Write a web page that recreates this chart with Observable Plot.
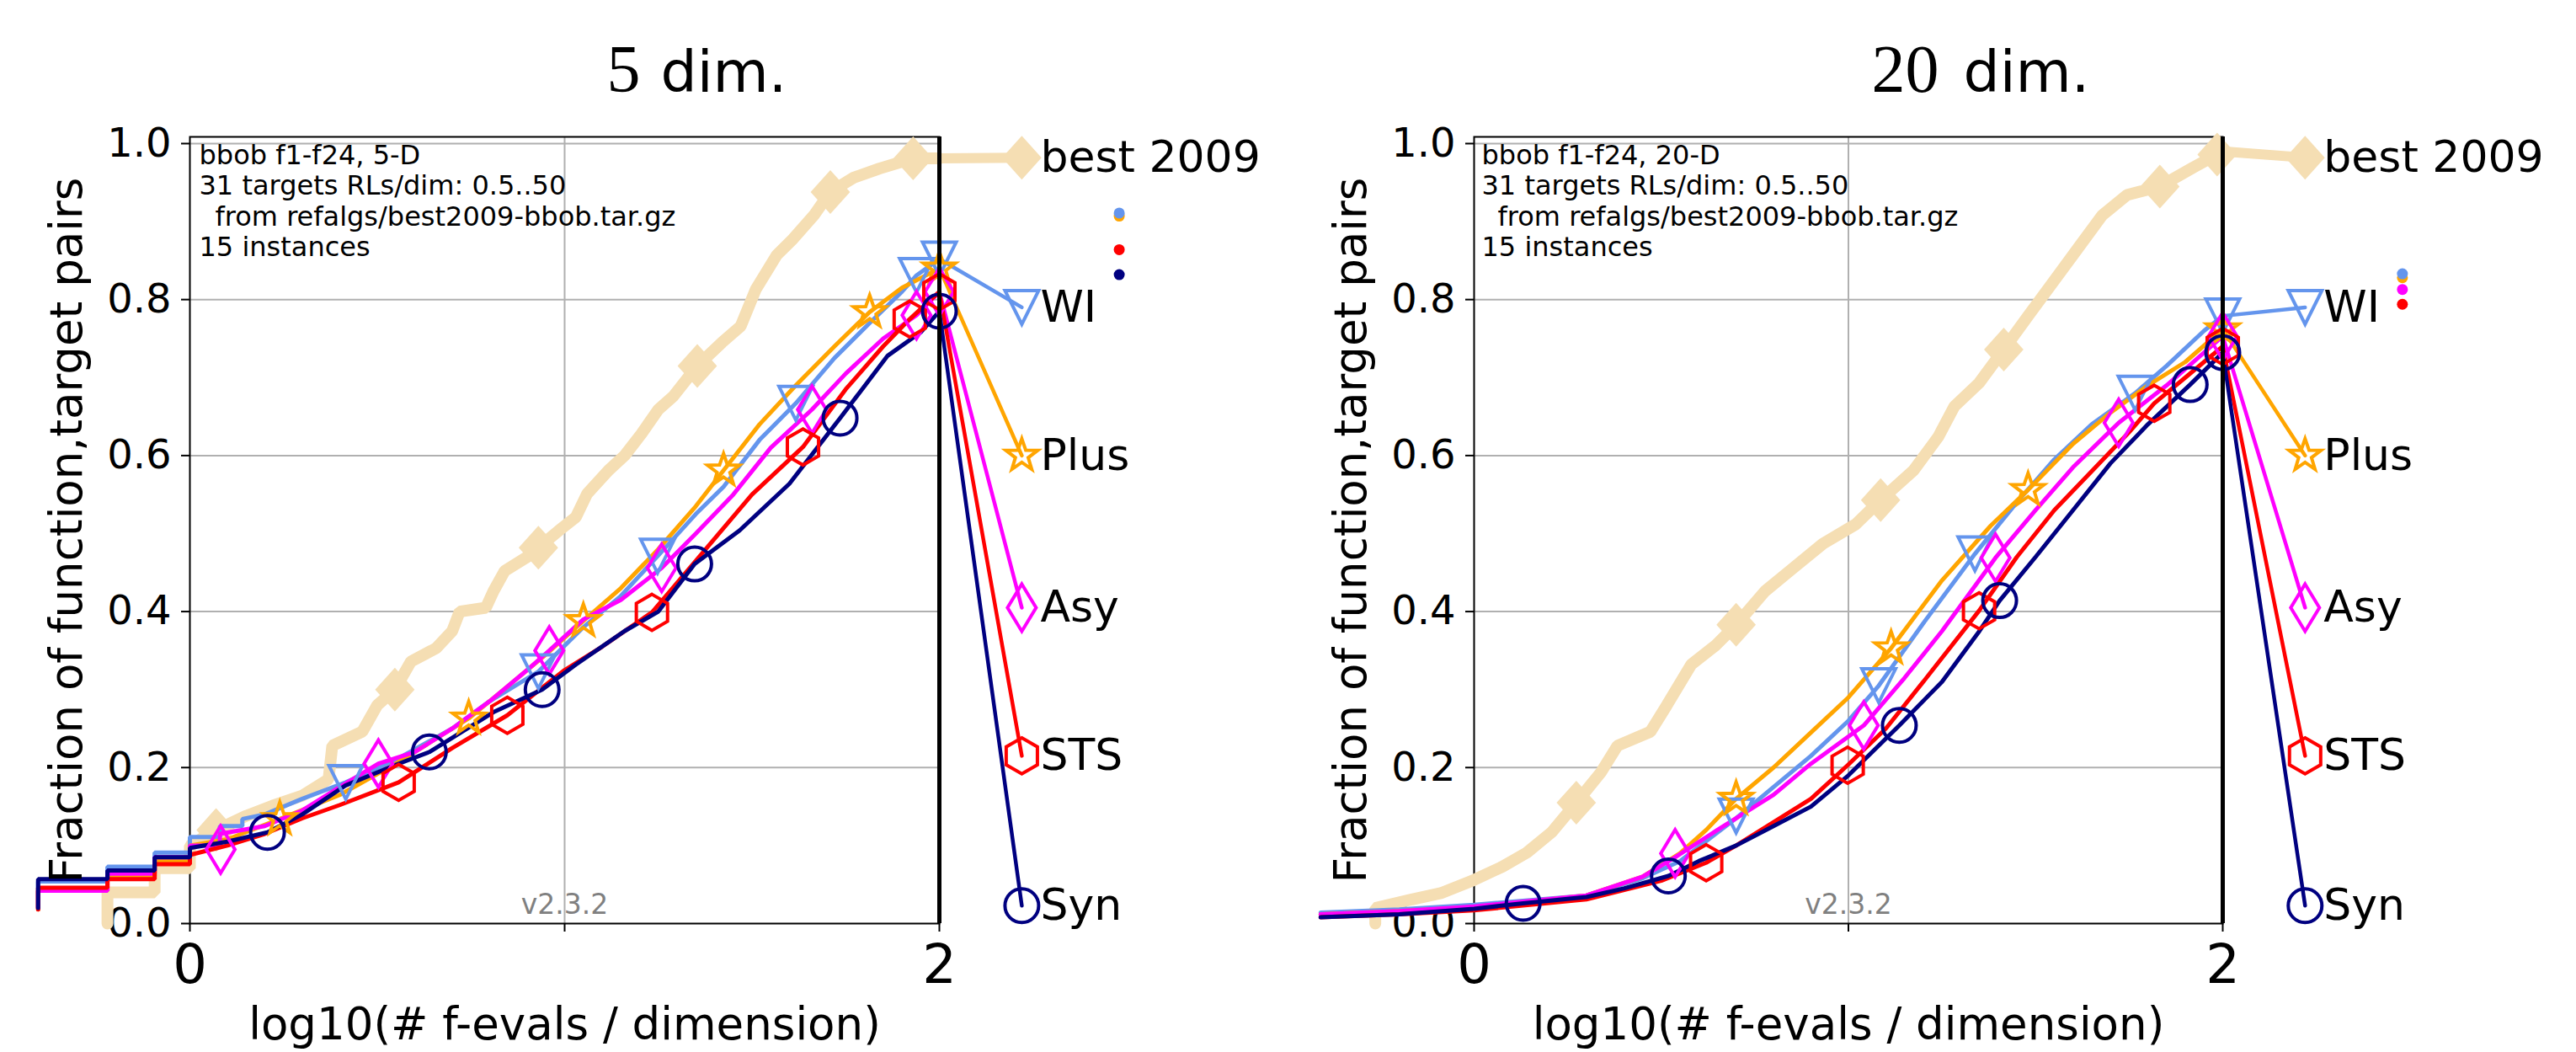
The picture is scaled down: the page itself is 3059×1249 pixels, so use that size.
<!DOCTYPE html>
<html><head><meta charset="utf-8">
<script src="https://cdn.jsdelivr.net/npm/d3@7"></script>
<script src="https://cdn.jsdelivr.net/npm/@observablehq/plot@0.6"></script>
<style>
html,body{margin:0;padding:0;background:#fff;}
#wrap{position:relative;width:3059px;height:1249px;overflow:hidden;background:#fff;}
.panel{position:absolute;top:0;}
</style></head><body><div id="wrap"></div>
<script>
// ---------- labels / categories ----------
const algNames = ["WI", "Plus", "Asy", "STS", "Syn"];
const algColors = ["#6495ED", "#FFA500", "#FF00FF", "#FF0000", "#000080"];
const bestName = "best 2009";
const bestColor = "#F5DEB3";
const yTicks = [0, 0.2, 0.4, 0.6, 0.8, 1.0];
const xTicks = [0, 1, 2];
const xTickText = ["0", "", "2"];
const legendX = 2.22;
const legendY = [0.982, 0.79, 0.6, 0.405, 0.215, 0.023]; // best, WI, Plus, Asy, STS, Syn
const dotX = 2.48;

// ---------- 5-D panel ----------
const best5 = [[-0.22,0.0],[-0.22,0.04],[-0.094,0.04],[-0.094,0.071],[0,0.071],[0,0.10],[0.07,0.12],[0.15,0.138],[0.22,0.151],[0.3,0.164],[0.37,0.185],[0.38,0.228],[0.46,0.246],[0.5,0.28],[0.547,0.30],[0.59,0.336],[0.657,0.353],[0.70,0.375],[0.72,0.40],[0.79,0.405],[0.81,0.426],[0.84,0.452],[0.90,0.47],[0.93,0.482],[0.985,0.504],[1.03,0.521],[1.06,0.551],[1.117,0.581],[1.16,0.60],[1.205,0.628],[1.25,0.659],[1.29,0.676],[1.354,0.715],[1.42,0.745],[1.47,0.766],[1.51,0.813],[1.566,0.857],[1.61,0.878],[1.665,0.908],[1.709,0.938],[1.77,0.956],[1.84,0.968],[1.93,0.981],[2.0,0.981]];
const best5Marks = [[0.07,0.12],[0.547,0.30],[0.93,0.482],[1.354,0.715],[1.709,0.938],[1.93,0.981]];

const wi5 = [[-0.405,0.02],[-0.405,0.054],[-0.22,0.054],[-0.22,0.073],[-0.094,0.073],[-0.094,0.091],[0,0.091],[0,0.111],[0.08,0.111],[0.08,0.125],[0.14,0.125],[0.14,0.134],[0.2,0.14],[0.3,0.16],[0.416,0.181],[0.55,0.21],[0.7,0.25],[0.8,0.285],[0.93,0.323],[1.05,0.38],[1.15,0.42],[1.248,0.471],[1.35,0.525],[1.424,0.56],[1.52,0.62],[1.617,0.667],[1.72,0.725],[1.814,0.77],[1.9,0.81],[1.939,0.831],[2.0,0.852]];
const wi5Marks = [[0.416,0.181],[0.93,0.323],[1.248,0.471],[1.617,0.667],[1.939,0.831],[2.0,0.852]];

const plus5 = [[-0.405,0.018],[-0.405,0.042],[-0.22,0.042],[-0.22,0.061],[-0.094,0.061],[-0.094,0.081],[0,0.081],[0,0.10],[0.1,0.108],[0.24,0.134],[0.4,0.165],[0.55,0.205],[0.744,0.263],[0.85,0.305],[0.95,0.345],[1.05,0.388],[1.15,0.43],[1.25,0.48],[1.35,0.535],[1.424,0.581],[1.52,0.64],[1.617,0.69],[1.72,0.74],[1.814,0.784],[1.9,0.815],[2.0,0.84]];
const plus5Marks = [[0.24,0.134],[0.744,0.263],[1.05,0.388],[1.424,0.581],[1.814,0.784],[2.0,0.84]];

const asy5 = [[-0.405,0.02],[-0.405,0.042],[-0.22,0.042],[-0.22,0.064],[-0.094,0.064],[-0.094,0.085],[0,0.085],[0,0.100],[0.08,0.100],[0.08,0.115],[0.2,0.125],[0.3,0.145],[0.4,0.175],[0.503,0.205],[0.6,0.22],[0.7,0.25],[0.8,0.285],[0.9,0.325],[0.959,0.35],[1.05,0.39],[1.15,0.415],[1.259,0.456],[1.35,0.5],[1.45,0.55],[1.55,0.61],[1.66,0.659],[1.75,0.705],[1.85,0.75],[1.939,0.78],[2.0,0.81]];
const asy5Marks = [[0.082,0.095],[0.503,0.205],[0.959,0.35],[1.259,0.456],[1.66,0.659],[1.939,0.78],[2.0,0.81]];

const sts5 = [[-0.405,0.018],[-0.405,0.046],[-0.22,0.046],[-0.22,0.057],[-0.094,0.057],[-0.094,0.076],[0,0.076],[0,0.088],[0.1,0.1],[0.2,0.115],[0.3,0.135],[0.4,0.152],[0.557,0.181],[0.7,0.225],[0.847,0.267],[1.0,0.325],[1.1,0.355],[1.233,0.399],[1.35,0.465],[1.5,0.55],[1.636,0.611],[1.75,0.685],[1.85,0.74],[1.921,0.775],[2.0,0.81]];
const sts5Marks = [[0.557,0.181],[0.847,0.267],[1.233,0.399],[1.636,0.611],[1.921,0.775],[2.0,0.81]];

const syn5 = [[-0.405,0.02],[-0.405,0.057],[-0.22,0.057],[-0.22,0.068],[-0.094,0.068],[-0.094,0.085],[0,0.085],[0,0.097],[0.1,0.105],[0.207,0.117],[0.3,0.14],[0.415,0.177],[0.547,0.203],[0.639,0.22],[0.81,0.271],[0.94,0.30],[1.03,0.332],[1.16,0.375],[1.25,0.40],[1.347,0.461],[1.467,0.504],[1.6,0.564],[1.735,0.648],[1.862,0.728],[1.95,0.758],[2.0,0.785]];
const syn5Marks = [[0.207,0.117],[0.639,0.22],[0.94,0.30],[1.347,0.461],[1.735,0.648],[2.0,0.785]];

const dots5Y = [0.911, 0.907, null, 0.864, 0.832]; // WI, Plus, Asy, STS, Syn

// ---------- 20-D panel ----------
const best20 = [[-0.264,0.0],[-0.264,0.02],[-0.166,0.031],[-0.089,0.039],[0,0.056],[0.076,0.073],[0.141,0.091],[0.207,0.117],[0.273,0.155],[0.339,0.194],[0.383,0.228],[0.471,0.246],[0.515,0.28],[0.58,0.332],[0.646,0.357],[0.70,0.383],[0.777,0.426],[0.843,0.452],[0.932,0.487],[1.02,0.512],[1.086,0.543],[1.174,0.581],[1.24,0.624],[1.283,0.663],[1.349,0.693],[1.415,0.736],[1.48,0.779],[1.546,0.822],[1.612,0.865],[1.678,0.908],[1.744,0.934],[1.832,0.945],[1.92,0.969],[1.985,0.986],[2.0,0.99]];
const best20Marks = [[0.273,0.155],[0.70,0.383],[1.086,0.543],[1.415,0.736],[1.832,0.945],[1.985,0.986]];

const wi20 = [[-0.41,0.014],[-0.2,0.018],[0,0.024],[0.3,0.036],[0.45,0.058],[0.55,0.08],[0.70,0.135],[0.8,0.175],[0.9,0.215],[1.0,0.26],[1.081,0.305],[1.2,0.385],[1.338,0.474],[1.45,0.54],[1.55,0.595],[1.65,0.64],[1.766,0.68],[1.85,0.715],[1.95,0.76],[2.0,0.779]];
const wi20Marks = [[0.70,0.138],[1.081,0.305],[1.338,0.474],[1.766,0.68],[2.0,0.779]];

const plus20 = [[-0.41,0.012],[-0.2,0.016],[0,0.021],[0.3,0.036],[0.45,0.06],[0.55,0.09],[0.62,0.12],[0.70,0.16],[0.8,0.20],[0.9,0.245],[1.0,0.29],[1.114,0.353],[1.25,0.44],[1.38,0.51],[1.48,0.556],[1.6,0.615],[1.7,0.655],[1.8,0.69],[1.9,0.72],[2.0,0.762]];
const plus20Marks = [[0.70,0.16],[1.114,0.353],[1.48,0.556],[2.0,0.762]];

const asy20 = [[-0.41,0.012],[-0.2,0.016],[0,0.022],[0.3,0.036],[0.45,0.06],[0.537,0.085],[0.65,0.12],[0.8,0.165],[0.9,0.205],[1.041,0.254],[1.15,0.315],[1.25,0.375],[1.393,0.469],[1.5,0.53],[1.6,0.585],[1.722,0.642],[1.85,0.69],[2.0,0.753]];
const asy20Marks = [[0.537,0.09],[1.041,0.254],[1.393,0.469],[1.722,0.642],[2.0,0.753]];

const sts20 = [[-0.41,0.008],[-0.2,0.012],[0,0.017],[0.3,0.031],[0.5,0.055],[0.62,0.078],[0.7,0.10],[0.8,0.13],[0.9,0.16],[0.998,0.203],[1.1,0.25],[1.2,0.31],[1.349,0.401],[1.45,0.47],[1.55,0.53],[1.65,0.58],[1.75,0.63],[1.817,0.667],[1.9,0.70],[2.0,0.74]];
const sts20Marks = [[0.62,0.078],[0.998,0.203],[1.349,0.401],[1.817,0.667],[2.0,0.74]];

const syn20 = [[-0.41,0.008],[-0.2,0.012],[0,0.019],[0.131,0.026],[0.3,0.034],[0.4,0.045],[0.519,0.061],[0.6,0.08],[0.7,0.10],[0.8,0.125],[0.9,0.15],[1.0,0.19],[1.136,0.254],[1.25,0.31],[1.35,0.375],[1.404,0.414],[1.5,0.47],[1.6,0.53],[1.7,0.59],[1.8,0.64],[1.913,0.691],[2.0,0.732]];
const syn20Marks = [[0.131,0.026],[0.519,0.061],[1.136,0.254],[1.404,0.414],[1.913,0.691],[2.0,0.732]];

const dots20Y = [0.833, 0.828, 0.813, 0.794, null];

const annot5 = ["bbob f1-f24, 5-D", "31 targets RLs/dim: 0.5..50", "from refalgs/best2009-bbob.tar.gz", "15 instances"];
const annot20 = ["bbob f1-f24, 20-D", "31 targets RLs/dim: 0.5..50", "from refalgs/best2009-bbob.tar.gz", "15 instances"];
const yLabel = "Fraction of function,target pairs";
const xLabel = "log10(# f-evals / dimension)";
const version = "v2.3.2";

// ---------- marker symbols ----------
const rOf = s => Math.sqrt(s / Math.PI);
const triDown = {draw(c, s) { const r = rOf(s); c.moveTo(-r, -r); c.lineTo(r, -r); c.lineTo(0, r); c.closePath(); }};
const star5 = {draw(c, s) { const r = rOf(s), ri = r * 0.4; for (let k = 0; k < 10; k++) { const a = -Math.PI / 2 + k * Math.PI / 5, rr = k % 2 ? ri : r; const x = rr * Math.cos(a), y = rr * Math.sin(a); k ? c.lineTo(x, y) : c.moveTo(x, y); } c.closePath(); }};
const thinDiamond = {draw(c, s) { const r = rOf(s); c.moveTo(0, -1.4 * r); c.lineTo(0.85 * r, 0); c.lineTo(0, 1.4 * r); c.lineTo(-0.85 * r, 0); c.closePath(); }};
const hexa = {draw(c, s) { const r = rOf(s) * 1.07; for (let k = 0; k < 6; k++) { const a = -Math.PI / 2 + k * Math.PI / 3; const x = r * Math.cos(a), y = r * Math.sin(a); k ? c.lineTo(x, y) : c.moveTo(x, y); } c.closePath(); }};
const bigDiamond = {draw(c, s) { const r = rOf(s); c.moveTo(0, -r); c.lineTo(0.9 * r, 0); c.lineTo(0, r); c.lineTo(-0.9 * r, 0); c.closePath(); }};
const algSymbols = [triDown, star5, thinDiamond, hexa, "circle"];

const X = d => d[0], Y = d => d[1];

function panel(cfg) {
  const yTop = 1.0086;
  const series = cfg.series, seriesMarks = cfg.seriesMarks;
  const marks = [
    Plot.gridY({ticks: yTicks.filter(t => t > 0), stroke: "#b0b0b0", strokeOpacity: 1, strokeWidth: 2}),
    Plot.gridX({ticks: [1], stroke: "#b0b0b0", strokeOpacity: 1, strokeWidth: 2}),
    Plot.frame({stroke: "black", strokeWidth: 2}),
    Plot.axisY({ticks: yTicks, tickFormat: d => d.toFixed(1), tickSize: 10, tickPadding: 12, fontSize: 48, label: null, strokeWidth: 2}),
    Plot.axisX({ticks: xTicks, tickFormat: d => xTickText[xTicks.indexOf(d)], tickSize: 10, tickPadding: 15, fontSize: 64, label: null, strokeWidth: 2}),
    Plot.text([version], {text: d => d, x: () => 1, frameAnchor: "bottom", dy: -12, lineAnchor: "bottom", textAnchor: "middle", fontSize: 33, fill: "#808080"}),
    // best 2009
    Plot.line(cfg.best, {x: X, y: Y, stroke: bestColor, strokeWidth: 14, strokeLinejoin: "miter"}),
    Plot.line([cfg.best[cfg.best.length - 1], [legendX, legendY[0]]], {x: X, y: Y, stroke: bestColor, strokeWidth: 12}),
    Plot.dot(cfg.bestMarks.concat([[legendX, legendY[0]]]), {x: X, y: Y, symbol: bigDiamond, r: 26, fill: bestColor, stroke: "none"})
  ];
  series.forEach((s, i) => {
    marks.push(Plot.line(s, {x: X, y: Y, stroke: algColors[i], strokeWidth: 5, strokeLinejoin: "miter"}));
  });
  series.forEach((s, i) => {
    marks.push(Plot.line([s[s.length - 1], [legendX, legendY[i + 1]]], {x: X, y: Y, stroke: algColors[i], strokeWidth: 4.5}));
  });
  series.forEach((s, i) => {
    marks.push(Plot.dot(seriesMarks[i].concat([[legendX, legendY[i + 1]]]), {x: X, y: Y, symbol: algSymbols[i], r: 20, stroke: algColors[i], strokeWidth: 4, fill: "none"}));
  });
  marks.push(Plot.ruleX([2], {y1: 0, y2: yTop, stroke: "black", strokeWidth: 5}));
  // legend labels
  const legendNames = [bestName].concat(algNames);
  marks.push(Plot.text(legendNames, {text: d => d, x: () => legendX, y: (d, i) => legendY[i], dx: 22, textAnchor: "start", fontSize: 52, fill: "black"}));
  // small dots
  const dotData = cfg.dotsY.map((y, i) => ({y, c: algColors[i]})).filter(d => d.y != null);
  dotData.sort((a, b) => a.y - b.y);
  marks.push(Plot.dot(dotData, {x: () => dotX, y: "y", r: 6.5, fill: d => d.c, stroke: "none"}));
  // annotation
  const baseDy = [32, 68, 105, 141];
  cfg.annot.forEach((t, i) => {
    marks.push(Plot.text([t], {text: d => d, frameAnchor: "top-left", dx: cfg.annotDx + (i === 2 ? 19 : 0), dy: baseDy[i], lineAnchor: "bottom", textAnchor: "start", fontSize: 32, fill: "black"}));
  });
  // axis labels
  marks.push(Plot.text([yLabel], {text: d => d, frameAnchor: "left", dx: -145, rotate: -90, textAnchor: "middle", lineAnchor: "middle", fontSize: 53, fill: "black"}));
  marks.push(Plot.text([xLabel], {text: d => d, frameAnchor: "bottom", dy: 137, lineAnchor: "bottom", textAnchor: "middle", fontSize: 53, fill: "black"}));
  // title
  marks.push(Plot.text([cfg.dimNum], {text: d => d, frameAnchor: "top-left", dx: cfg.numDx, dy: -54, lineAnchor: "bottom", textAnchor: "start", fontSize: 80, fontFamily: "Liberation Serif", fill: "black"}));
  marks.push(Plot.text(["dim."], {text: d => d, frameAnchor: "top-left", dx: cfg.dimDx, dy: -54, lineAnchor: "bottom", textAnchor: "start", fontSize: 68, fill: "black"}));

  return Plot.plot({
    width: cfg.width, height: 1249,
    marginLeft: cfg.mLeft, marginRight: cfg.mRight, marginTop: 162, marginBottom: 153,
    x: {domain: [0, 2]},
    y: {domain: [0, yTop]},
    style: {fontFamily: "DejaVu Sans", background: "white", color: "black", overflow: "visible"},
    marks
  });
}

const left = panel({
  width: 1530, mLeft: 225, mRight: 415,
  best: best5, bestMarks: best5Marks,
  series: [wi5, plus5, asy5, sts5, syn5],
  seriesMarks: [wi5Marks, plus5Marks, asy5Marks, sts5Marks, syn5Marks],
  dotsY: dots5Y, annot: annot5, annotDx: 11,
  dimNum: "5", numDx: 495, dimDx: 559
});
const right = panel({
  width: 1529, mLeft: 220, mRight: 420,
  best: best20, bestMarks: best20Marks,
  series: [wi20, plus20, asy20, sts20, syn20],
  seriesMarks: [wi20Marks, plus20Marks, asy20Marks, sts20Marks, syn20Marks],
  dotsY: dots20Y, annot: annot20, annotDx: 9,
  dimNum: "20", numDx: 472, dimDx: 581
});
const wrap = document.getElementById("wrap");
left.classList.add("panel"); left.style.left = "0px";
right.classList.add("panel"); right.style.left = "1530px";
wrap.appendChild(left); wrap.appendChild(right);
</script></body></html>
